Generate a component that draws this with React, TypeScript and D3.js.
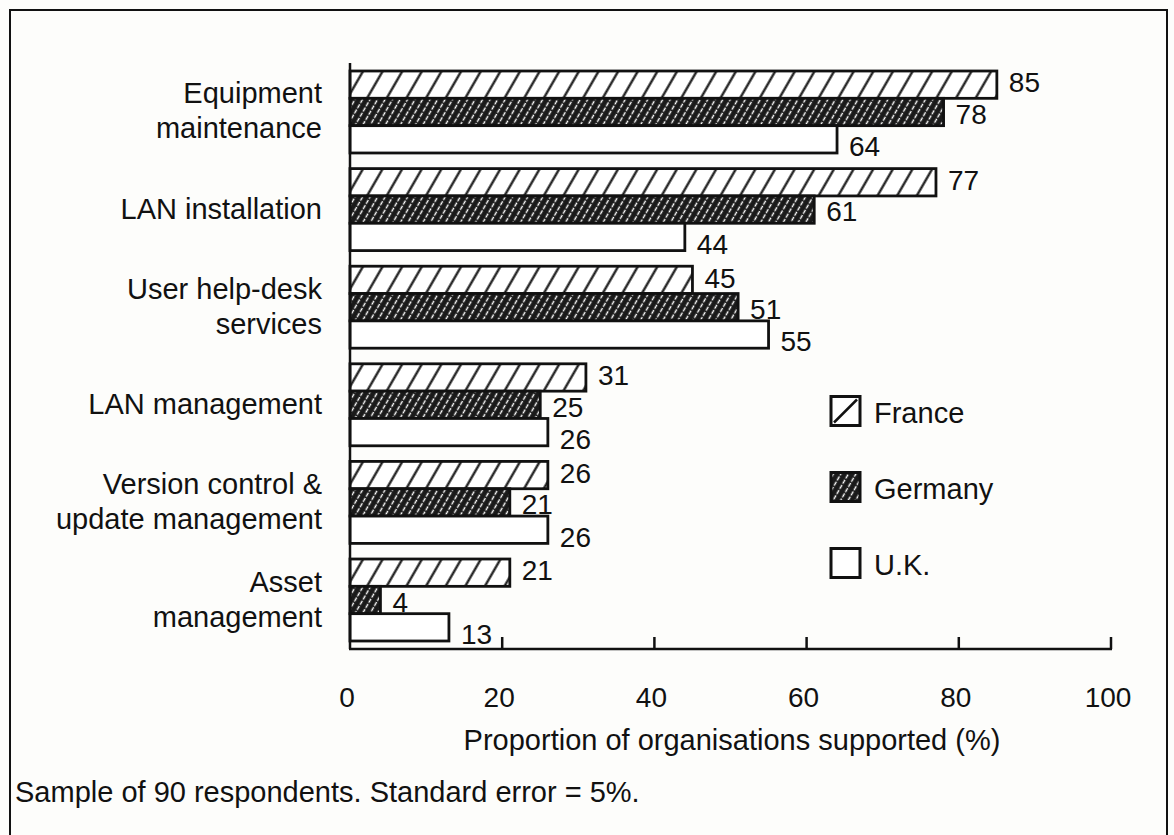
import React, { useRef, useEffect } from 'react';
import * as d3 from 'd3';

// one entry per category, split into the lines it is printed on
const categoryLines: string[][] = [
  ['Equipment', 'maintenance'],
  ['LAN installation'],
  ['User help-desk', 'services'],
  ['LAN management'],
  ['Version control &', 'update management'],
  ['Asset', 'management'],
];

const seriesNames = ['France', 'Germany', 'U.K.'];
const franceValues = [85, 77, 45, 31, 26, 21];
const germanyValues = [78, 61, 51, 25, 21, 4];
const ukValues = [64, 44, 55, 26, 26, 13];

const xTicks = [0, 20, 40, 60, 80, 100];
const xTitle = 'Proportion of organisations supported (%)';
const footNote = 'Sample of 90 respondents. Standard error = 5%.';

const FONT = '"Liberation Sans", Arial, Helvetica, sans-serif';
const FS = 29;

const App = () => {
  const ref = useRef<SVGSVGElement | null>(null);

  useEffect(() => {
    document.body.style.margin = '0';
    if (!ref.current) return;
    const width = 1174;
    const height = 835;

    const svg = d3.select(ref.current);
    svg.selectAll('*').remove();
    svg.attr('width', width).attr('height', height).style('display', 'block');

    svg.append('rect').attr('width', width).attr('height', height).attr('fill', '#fdfdfb');

    // patterns
    const defs = svg.append('defs');
    const fr = defs.append('pattern')
      .attr('id', 'pat-france')
      .attr('patternUnits', 'userSpaceOnUse')
      .attr('width', 17).attr('height', 17)
      .attr('patternTransform', 'rotate(30)');
    fr.append('rect').attr('width', 17).attr('height', 17).attr('fill', '#fff');
    fr.append('line').attr('x1', 8.5).attr('x2', 8.5).attr('y1', 0).attr('y2', 17)
      .attr('stroke', '#111').attr('stroke-width', 2.2);

    const de = defs.append('pattern')
      .attr('id', 'pat-germany')
      .attr('patternUnits', 'userSpaceOnUse')
      .attr('width', 6.5).attr('height', 6)
      .attr('patternTransform', 'rotate(30)');
    de.append('rect').attr('width', 6.5).attr('height', 6).attr('fill', '#1a1a1a');
    de.append('line').attr('x1', 3.2).attr('x2', 3.2).attr('y1', 0).attr('y2', 6)
      .attr('stroke', '#fff').attr('stroke-width', 1.4).attr('stroke-dasharray', '3.5 1.5');

    const fills = ['url(#pat-france)', 'url(#pat-germany)', '#fff'];
    const series = [franceValues, germanyValues, ukValues];
    const labelShift = [-2, 2, 7]; // value labels sit a little lower on lower bars

    // frame (bottom edge runs off the page)
    svg.append('rect')
      .attr('x', 10).attr('y', 10).attr('width', 1157).attr('height', 840)
      .attr('fill', 'none').attr('stroke', '#111').attr('stroke-width', 2);

    const x = d3.scaleLinear().domain([0, 100]).range([350, 1111]);
    const y = d3.scaleBand<number>()
      .domain(d3.range(categoryLines.length))
      .range([71, 641])
      .paddingInner(0.16);
    const inner = d3.scaleBand<number>().domain([0, 1, 2]).range([0, y.bandwidth()]);

    const axisY = 649;

    // bars
    categoryLines.forEach((_, ci) => {
      const g = svg.append('g').attr('transform', `translate(0,${y(ci)})`);
      series.forEach((vals, si) => {
        const v = vals[ci];
        const by = inner(si)!;
        g.append('rect')
          .attr('x', x(0)).attr('y', by)
          .attr('width', x(v) - x(0)).attr('height', inner.bandwidth())
          .attr('fill', fills[si])
          .attr('stroke', '#111').attr('stroke-width', 2.8);
        g.append('text')
          .attr('x', x(v) + 12)
          .attr('y', by + inner.bandwidth() / 2 + labelShift[si])
          .attr('dy', '0.35em')
          .attr('font-family', FONT).attr('font-size', 28).attr('fill', '#111')
          .text(v);
      });
    });

    // category labels
    categoryLines.forEach((lines, ci) => {
      const cy = y(ci)! + y.bandwidth() / 2;
      const t = svg.append('text')
        .attr('text-anchor', 'end')
        .attr('font-family', FONT).attr('font-size', FS).attr('fill', '#111');
      const lh = 35;
      lines.forEach((l, li) => {
        t.append('tspan')
          .attr('x', 322)
          .attr('y', cy + 9 + (li - (lines.length - 1) / 2) * lh)
          .text(l);
      });
    });

    // axes
    svg.append('line')
      .attr('x1', x(0)).attr('x2', x(0)).attr('y1', 63).attr('y2', axisY)
      .attr('stroke', '#111').attr('stroke-width', 2.5);
    svg.append('line')
      .attr('x1', x(0) - 1).attr('x2', x(100) + 1).attr('y1', axisY).attr('y2', axisY)
      .attr('stroke', '#111').attr('stroke-width', 2.5);
    xTicks.filter(d => d > 0).forEach(d => {
      svg.append('line')
        .attr('x1', x(d)).attr('x2', x(d)).attr('y1', axisY - 12).attr('y2', axisY)
        .attr('stroke', '#111').attr('stroke-width', 2.5);
    });
    xTicks.forEach(d => {
      svg.append('text')
        .attr('x', x(d) - 3).attr('y', 707)
        .attr('text-anchor', 'middle')
        .attr('font-family', FONT).attr('font-size', 28).attr('fill', '#111')
        .text(d);
    });
    svg.append('text')
      .attr('x', 732).attr('y', 750)
      .attr('text-anchor', 'middle')
      .attr('font-family', FONT).attr('font-size', FS).attr('fill', '#111')
      .text(xTitle);

    svg.append('text')
      .attr('x', 15).attr('y', 802)
      .attr('font-family', FONT).attr('font-size', FS).attr('fill', '#111')
      .text(footNote);

    // legend
    const legendY = [411, 487, 563];
    seriesNames.forEach((name, si) => {
      const cy = legendY[si];
      const bx = 831;
      const s = 29;
      const lg = svg.append('g');
      if (si === 0) {
        lg.append('rect').attr('x', bx).attr('y', cy - s / 2).attr('width', s).attr('height', s)
          .attr('fill', '#fff').attr('stroke', '#111').attr('stroke-width', 3);
        lg.append('line').attr('x1', bx + 3).attr('y1', cy + s / 2 - 3)
          .attr('x2', bx + s - 3).attr('y2', cy - s / 2 + 3)
          .attr('stroke', '#111').attr('stroke-width', 2.5);
      } else {
        lg.append('rect').attr('x', bx).attr('y', cy - s / 2).attr('width', s).attr('height', s)
          .attr('fill', fills[si]).attr('stroke', '#111').attr('stroke-width', 3);
      }
      lg.append('text')
        .attr('x', 874).attr('y', cy + 2)
        .attr('dy', '0.35em')
        .attr('font-family', FONT).attr('font-size', FS).attr('fill', '#111')
        .text(name);
    });
  }, []);

  return <svg ref={ref} />;
};

export default App;
